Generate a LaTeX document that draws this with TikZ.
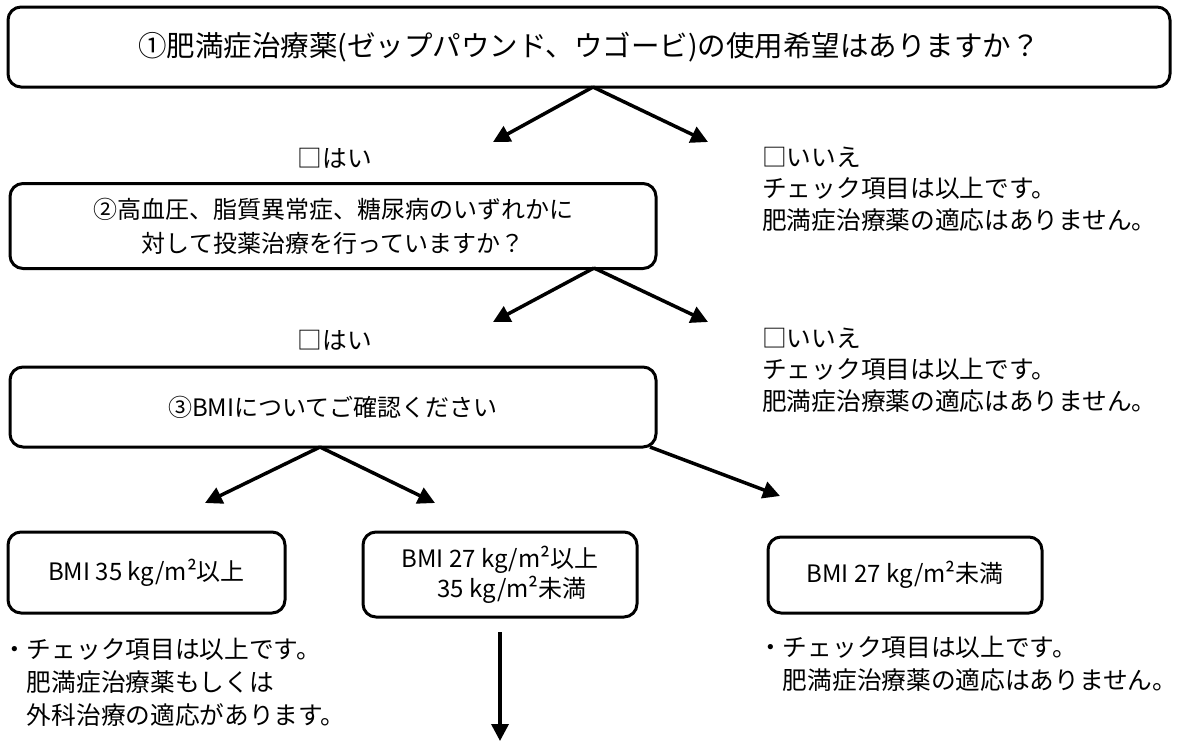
\documentclass[tikz,border=0pt]{standalone}
\usepackage{fontspec}
\setmainfont{Noto Sans CJK JP}
\usetikzlibrary{arrows.meta}
\tikzset{
  box/.style={draw, line width=3pt, rounded corners=13pt, inner sep=0pt, align=center, font=\fontsize{24}{33}\selectfont},
  conn/.style={line width=3.5pt, -{Triangle[length=17pt,width=17pt]}},
  txt/.style={inner sep=0pt, align=left, font=\fontsize{24.7}{31.5}\selectfont},
  txtb/.style={inner sep=0pt, align=left, font=\fontsize{24.7}{33}\selectfont},
}
\begin{document}
\begin{tikzpicture}[x=1pt,y=-1pt]
\useasboundingbox (0,0) rectangle (1190,742);
% boxes
\node[box, minimum width=1162pt, minimum height=80pt, font=\fontsize{28.5}{34}\selectfont] (b1) at (589,47) {①肥満症治療薬(ゼップパウンド、ウゴービ)の使用希望はありますか？};
\node[box, minimum width=646pt, minimum height=85pt, font=\fontsize{24}{34}\selectfont] (b2) at (333,226) {②高血圧、脂質異常症、糖尿病のいずれかに\\対して投薬治療を行っていますか？};
\node[box, minimum width=646pt, minimum height=80pt] (b3) at (333,407) {③BMIについてご確認ください};
\node[box, minimum width=277pt, minimum height=81pt] (b4) at (146.5,572.5) {BMI 35 kg/m²以上};
\node[box, minimum width=274pt, minimum height=85pt, align=left, font=\fontsize{24}{30}\selectfont] (b5) at (500,574.5) {BMI 27 kg/m²以上\\\hspace*{36pt}35 kg/m²未満};
\node[box, minimum width=274pt, minimum height=76pt] (b6) at (905,575) {BMI 27 kg/m²未満};
% labels
\node[txt] (yes1) at (335,158) {□はい};
\node[txt, anchor=west] (no1) at (762,189) {□いいえ\\チェック項目は以上です。\\肥満症治療薬の適応はありません。};
\node[txt] (yes2) at (335,340) {□はい};
\node[txt, anchor=west] (no2) at (762,370) {□いいえ\\チェック項目は以上です。\\肥満症治療薬の適応はありません。};
\node[txtb, anchor=west] (res4) at (2,682) {・チェック項目は以上です。\\　肥満症治療薬もしくは\\　外科治療の適応があります。};
\node[txtb, anchor=west] (res6) at (758,664) {・チェック項目は以上です。\\　肥満症治療薬の適応はありません。};
% junction points and arrow ends
\coordinate (j1) at (593,87);
\coordinate (t1l) at (493,142);
\coordinate (t1r) at (708,142);
\coordinate (j2) at (594,268);
\coordinate (t2l) at (493,322);
\coordinate (t2r) at (708,322);
\coordinate (j3) at (320,447);
\coordinate (t3l) at (205,503);
\coordinate (t3r) at (435,503);
\coordinate (j3b) at (650,447);
\coordinate (t3c) at (780,496);
\coordinate (d0) at (500,632);
\coordinate (d1) at (500,741);
% connectors
\draw[conn] (j1) -- (t1l);
\draw[conn] (j1) -- (t1r);
\draw[conn] (j2) -- (t2l);
\draw[conn] (j2) -- (t2r);
\draw[conn] (j3) -- (t3l);
\draw[conn] (j3) -- (t3r);
\draw[conn] (j3b) -- (t3c);
\draw[conn] (d0) -- (d1);
\end{tikzpicture}
\end{document}
